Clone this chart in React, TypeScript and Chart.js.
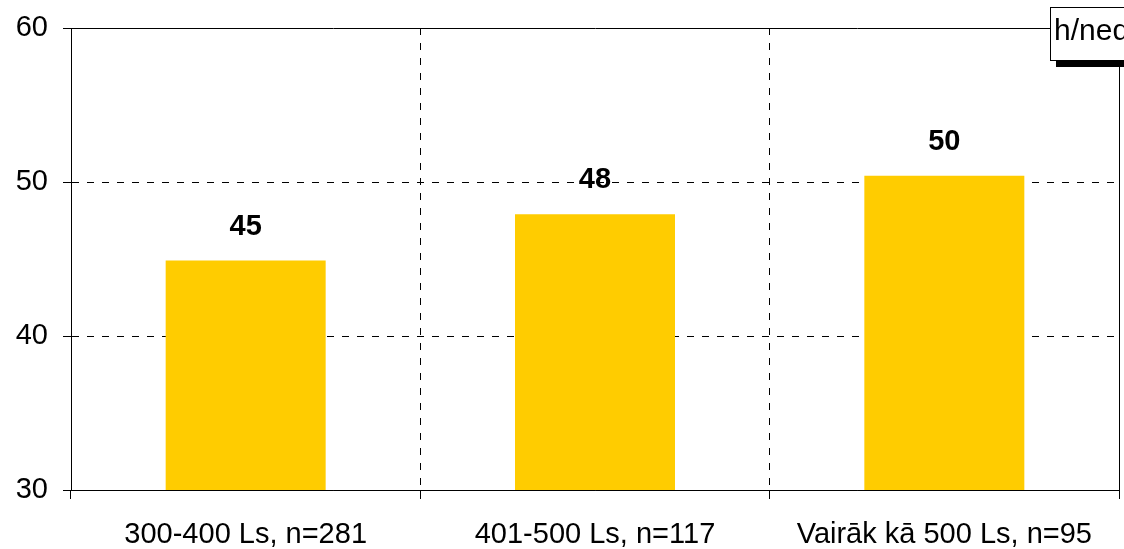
import React, { useEffect, useRef } from 'react';
import { Chart, registerables } from 'chart.js';

Chart.register(...registerables);

const categories = ['300-400 Ls, n=281', '401-500 Ls, n=117', 'Vairāk kā 500 Ls, n=95'];
const hoursPerWeek = [44.9, 47.9, 50.4];
const yTickValues = [30, 40, 50, 60];
const legendLabel = 'h/ned.';

const FONT = '"Liberation Sans", Arial, sans-serif';
const BAR_COLOR = '#FFCC00';

const framePlugin = {
  id: 'frameAndLabels',
  afterDatasetsDraw(chart: any) {
    const ctx = chart.ctx;
    const meta = chart.getDatasetMeta(0);
    ctx.save();
    ctx.fillStyle = '#000';
    ctx.font = `bold 29px ${FONT}`;
    ctx.textAlign = 'center';
    ctx.textBaseline = 'middle';
    meta.data.forEach((bar: any, i: number) => {
      const v = chart.data.datasets[0].data[i] as number;
      ctx.fillText(String(Math.round(v)), bar.x, bar.y - 34);
    });
    ctx.restore();
  },
  afterDraw(chart: any) {
    const ctx = chart.ctx;
    const a = chart.chartArea;
    const l = Math.round(a.left) + 0.5;
    const r = Math.round(a.right) + 0.5;
    const t = Math.round(a.top) + 0.5;
    const b = Math.round(a.bottom) + 0.5;
    ctx.save();
    ctx.strokeStyle = '#000';
    ctx.lineWidth = 1;
    ctx.setLineDash([]);
    ctx.beginPath();
    ctx.moveTo(l, b);
    ctx.lineTo(l, t);
    ctx.lineTo(r, t);
    ctx.lineTo(r, b);
    ctx.lineTo(l, b);
    ctx.stroke();
    // legend box (clipped at the right edge)
    const bx = 1050.5;
    const by = 7.5;
    const bh = 53;
    ctx.fillStyle = '#000';
    ctx.fillRect(1056, 60, chart.width - 1056, 7);
    ctx.fillStyle = '#fff';
    ctx.fillRect(bx, by, chart.width - bx + 5, bh);
    ctx.strokeStyle = '#000';
    ctx.strokeRect(bx, by, chart.width - bx + 5, bh);
    ctx.fillStyle = '#000';
    ctx.font = `30px ${FONT}`;
    ctx.textAlign = 'left';
    ctx.textBaseline = 'alphabetic';
    ctx.fillText(legendLabel, 1054, 40);
    ctx.restore();
  },
};

const innerOnly = (n: number) => (c: any) =>
  c.index === 0 || c.index === n - 1 ? 'rgba(0,0,0,0)' : '#000';

export default function App() {
  const ref = useRef<HTMLCanvasElement | null>(null);
  useEffect(() => {
    document.body.style.margin = '0';
    const canvas = ref.current;
    if (!canvas) return;
    const chart = new Chart(canvas, {
      type: 'bar',
      data: {
        labels: categories,
        datasets: [
          {
            data: hoursPerWeek,
            backgroundColor: BAR_COLOR,
            borderWidth: 0,
            categoryPercentage: 1,
            barPercentage: 0.458,
          },
        ],
      },
      options: {
        responsive: false,
        animation: false,
        events: [],
        layout: { padding: { left: 0, right: 5, top: 28, bottom: 0 } },
        plugins: {
          legend: { display: false },
          tooltip: { enabled: false },
          title: { display: false },
        },
        scales: {
          x: {
            offset: true,
            grid: {
              offset: true,
              color: innerOnly(categories.length + 1),
              lineWidth: 1,
              tickLength: 9,
              tickColor: '#000',
              tickBorderDash: [],
            },
            border: { display: true, color: '#000', width: 1, dash: [7, 8] },
            ticks: {
              color: '#000',
              font: { family: FONT, size: 29 },
              padding: 19,
              maxRotation: 0,
              autoSkip: false,
            },
            afterFit(scale: any) {
              scale.height = 59;
              scale.paddingLeft = 0;
              scale.paddingRight = 0;
            },
          },
          y: {
            min: 30,
            max: 60,
            afterBuildTicks(scale: any) {
              scale.ticks = yTickValues.map((v) => ({ value: v }));
            },
            grid: {
              color: innerOnly(yTickValues.length),
              lineWidth: 1,
              tickLength: 8,
              tickColor: '#000',
              tickBorderDash: [],
            },
            border: { display: true, color: '#000', width: 1, dash: [7, 8] },
            ticks: {
              color: '#000',
              font: { family: FONT, size: 29 },
              padding: 15,
            },
            afterFit(scale: any) {
              scale.width = 71;
              scale.paddingTop = 0;
              scale.paddingBottom = 0;
            },
          },
        },
      },
      plugins: [framePlugin],
    });
    return () => chart.destroy();
  }, []);
  return <canvas ref={ref} width={1124} height={549} style={{ display: 'block' }} />;
}
